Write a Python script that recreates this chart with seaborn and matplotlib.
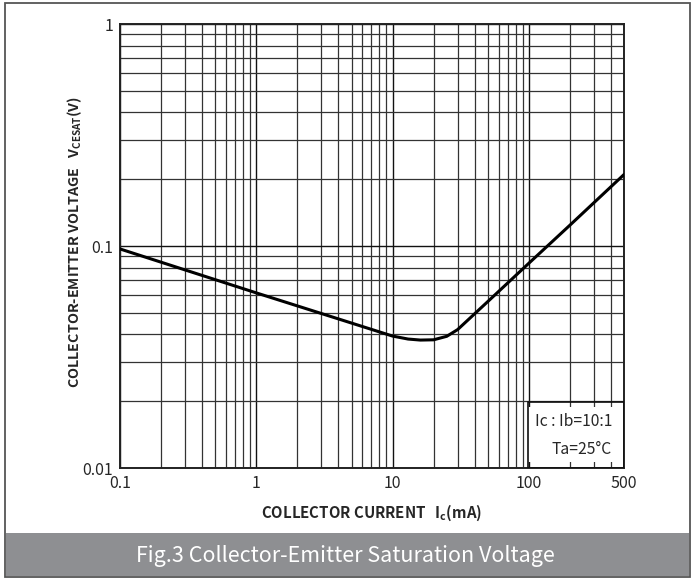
import matplotlib.pyplot as plt
import matplotlib.patches as mpatches
import seaborn as sns
import pandas as pd

# 読み取った曲線データ
ic_ma = [0.1, 1, 10, 13, 16, 20, 25, 30, 50, 100, 200, 500]
vce_sat = [0.097, 0.0615, 0.0393, 0.0381, 0.0377, 0.0378, 0.0392, 0.042, 0.0562, 0.0836, 0.124, 0.21]

x_ticks = [0.1, 1, 10, 100, 500]
x_tick_labels = ["0.1", "1", "10", "100", "500"]
y_ticks = [0.01, 0.1, 1]
y_tick_labels = ["0.01", "0.1", "1"]

sns.set_style("white")
plt.rcParams['font.family'] = ['Noto Sans CJK SC', 'DejaVu Sans']
plt.rcParams['mathtext.fontset'] = 'custom'
plt.rcParams['mathtext.rm'] = 'Noto Sans CJK SC'
plt.rcParams['mathtext.bf'] = 'Noto Sans CJK SC:bold'

fig = plt.figure(figsize=(6.91, 5.79), dpi=100)
ax = fig.add_axes([0.1737, 0.1917, 0.7294, 0.7668])

df = pd.DataFrame({"ic": ic_ma, "v": vce_sat})
sns.lineplot(data=df, x="ic", y="v", ax=ax, color="black", linewidth=2.2,
             estimator=None, sort=True, zorder=5)

ax.set_xscale("log")
ax.set_yscale("log")
ax.set_xlim(0.1, 500)
ax.set_ylim(0.01, 1)

#グリッド
ax.grid(True, which="major", color="#111111", linewidth=1.0)
ax.grid(True, which="minor", color="#333333", linewidth=0.9)
ax.set_axisbelow(True)

ax.set_xticks(x_ticks)
ax.set_xticklabels(x_tick_labels)
ax.set_yticks(y_ticks)
ax.set_yticklabels(y_tick_labels)
ax.tick_params(which="both", length=0, labelsize=11.5, pad=5)
for s in ax.spines.values():
    s.set_color("#222222")
    s.set_linewidth(1.4)

ax.set_xlabel(r"COLLECTOR CURRENT   I$_{\mathbf{c}}$(mA)", fontsize=10.8,
              fontweight="bold", labelpad=8)
ax.set_ylabel(r"COLLECTOR-EMITTER VOLTAGE   V$_{\mathbf{CESAT}}$(V)", fontsize=10.3,
              fontweight="bold")
ax.yaxis.set_label_coords(-0.072, 0.51)

# 条件ボックス
ax.add_patch(mpatches.Rectangle((0.81, 0.013), 0.18, 0.124, transform=ax.transAxes,
                                facecolor="white", edgecolor="none", zorder=3))
ax.add_patch(mpatches.Rectangle((0.81, 0.0), 0.19, 0.149, transform=ax.transAxes,
                                facecolor="none", edgecolor="#111111", linewidth=1.2, zorder=4))
ax.text(0.90, 0.105, "Ic : Ib=10:1", transform=ax.transAxes, ha="center", va="center",
        fontsize=11.3, zorder=6)
ax.text(0.915, 0.042, "Ta=25°C", transform=ax.transAxes, ha="center", va="center",
        fontsize=11.3, zorder=6)

# 外枠とキャプション
fig.patches.append(mpatches.Rectangle((5 / 691, 2 / 579), 685 / 691, 574 / 579,
                                      transform=fig.transFigure, facecolor="none",
                                      edgecolor="#555555", linewidth=1.3))
fig.patches.append(mpatches.Rectangle((6 / 691, 3 / 579), 683 / 691, 43 / 579,
                                      transform=fig.transFigure, facecolor="#8e8f92",
                                      edgecolor="none"))
fig.text(0.5, 23 / 579, "Fig.3 Collector-Emitter Saturation Voltage", ha="center",
         va="center", color="white", fontsize=15.5)

fig.savefig("out.png", dpi=100)
